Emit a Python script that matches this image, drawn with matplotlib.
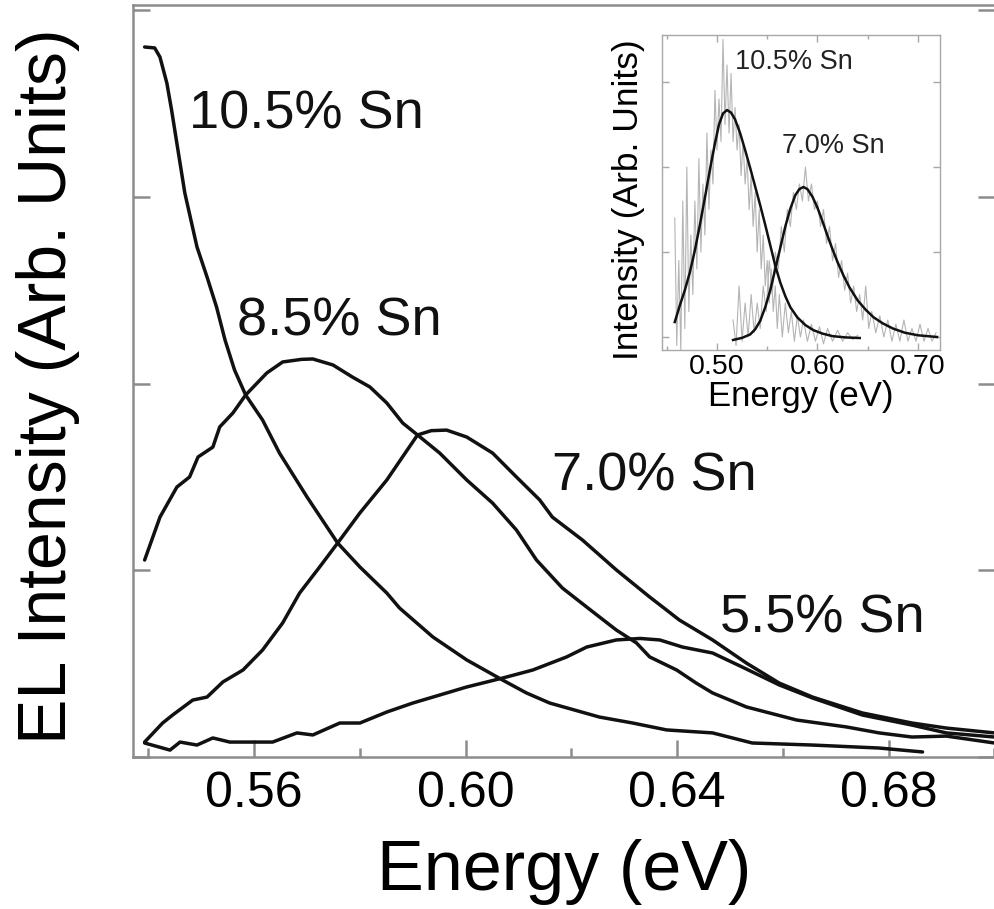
"""
EL spectra of GeSn samples with an inset of PL fits.
Output: out.png
"""

import matplotlib
matplotlib.use("Agg")
import matplotlib.pyplot as plt
from matplotlib.ticker import MultipleLocator

plt.rcParams["font.family"] = ["Liberation Sans", "DejaVu Sans"]

COL_LINE = "#111111"
COL_AXIS = "#8c8c8c"
COL_INSET_AXIS = "#a8a8a8"
COL_RAW = "#b4b4b4"

# ── main panel: EL spectra (energy in eV, intensity in arb. units) ──────
sn105_e = [0.5393, 0.5412, 0.5422, 0.5435, 0.5444, 0.5456, 0.5469, 0.5492,
           0.5511, 0.5529, 0.5545, 0.5563, 0.5584, 0.5616, 0.5648, 0.5700,
           0.5758, 0.5800, 0.5851, 0.5875, 0.5938, 0.6002, 0.6070, 0.6115,
           0.6159, 0.6253, 0.6316, 0.6380, 0.6467, 0.6542, 0.6656, 0.6782,
           0.6864]
sn105_i = [3.803, 3.798, 3.749, 3.610, 3.465, 3.251, 3.021, 2.732,
           2.571, 2.410, 2.234, 2.073, 1.939, 1.805, 1.628, 1.393,
           1.146, 1.018, 0.878, 0.798, 0.643, 0.520, 0.412, 0.343,
           0.289, 0.214, 0.182, 0.145, 0.129, 0.075, 0.064, 0.048,
           0.027]

sn85_e = [0.5393, 0.5422, 0.5454, 0.5478, 0.5494, 0.5522, 0.5535, 0.5560,
          0.5584, 0.5624, 0.5654, 0.5690, 0.5711, 0.5749, 0.5786, 0.5819,
          0.5851, 0.5881, 0.5909, 0.5951, 0.6002, 0.6051, 0.6096, 0.6134,
          0.6183, 0.6229, 0.6285, 0.6323, 0.6348, 0.6399, 0.6436, 0.6467,
          0.6531, 0.6626, 0.6720, 0.6782, 0.6844, 0.6909, 0.7000]
sn85_i = [1.055, 1.285, 1.446, 1.500, 1.607, 1.660, 1.768, 1.843,
          1.939, 2.057, 2.116, 2.130, 2.132, 2.100, 2.035, 1.982,
          1.896, 1.789, 1.725, 1.628, 1.484, 1.360, 1.216, 1.055,
          0.905, 0.803, 0.680, 0.611, 0.536, 0.466, 0.396, 0.343,
          0.268, 0.198, 0.161, 0.129, 0.107, 0.112, 0.075]

sn70_e = [0.5393, 0.5427, 0.5446, 0.5484, 0.5511, 0.5541, 0.5579, 0.5616,
          0.5654, 0.5686, 0.5724, 0.5758, 0.5800, 0.5851, 0.5909, 0.5935,
          0.5964, 0.6002, 0.6051, 0.6096, 0.6140, 0.6164, 0.6221, 0.6285,
          0.6348, 0.6380, 0.6404, 0.6467, 0.6531, 0.6593, 0.6656, 0.6750,
          0.6844, 0.6909, 0.7000]
sn70_i = [0.080, 0.182, 0.225, 0.305, 0.321, 0.402, 0.466, 0.573,
          0.718, 0.878, 1.018, 1.146, 1.307, 1.484, 1.725, 1.748,
          1.751, 1.714, 1.628, 1.500, 1.377, 1.285, 1.162, 1.002,
          0.857, 0.787, 0.734, 0.627, 0.503, 0.396, 0.321, 0.236,
          0.182, 0.155, 0.129]

sn55_e = [0.5393, 0.5441, 0.5460, 0.5492, 0.5522, 0.5554, 0.5597, 0.5635,
          0.5681, 0.5711, 0.5762, 0.5800, 0.5851, 0.5900, 0.5938, 0.6002,
          0.6070, 0.6127, 0.6191, 0.6229, 0.6285, 0.6330, 0.6367, 0.6410,
          0.6467, 0.6523, 0.6593, 0.6656, 0.6750, 0.6844, 0.6909, 0.7000]
sn55_i = [0.075, 0.037, 0.080, 0.064, 0.102, 0.080, 0.080, 0.080,
          0.129, 0.118, 0.182, 0.182, 0.241, 0.289, 0.321, 0.375,
          0.423, 0.466, 0.536, 0.589, 0.627, 0.635, 0.627, 0.589,
          0.557, 0.482, 0.386, 0.316, 0.225, 0.171, 0.129, 0.107]

main_labels = ["10.5% Sn", "8.5% Sn", "7.0% Sn", "5.5% Sn"]
main_xticks = [0.56, 0.60, 0.64, 0.68]
main_xminor = [0.54, 0.58, 0.62, 0.66, 0.70]

# ── inset: raw spectra (grey) and fits (black) ──────────────────────────
raw105_e = [0.458, 0.460, 0.462, 0.464, 0.466, 0.468, 0.470, 0.472, 0.474,
            0.476, 0.478, 0.480, 0.482, 0.484, 0.486, 0.488, 0.490, 0.492,
            0.494, 0.496, 0.498, 0.500, 0.502, 0.504, 0.506, 0.508, 0.510,
            0.512, 0.514, 0.516, 0.518, 0.520, 0.522, 0.524, 0.526, 0.528,
            0.530, 0.532, 0.534, 0.536, 0.538, 0.540, 0.542, 0.544, 0.546,
            0.548, 0.550, 0.552, 0.554, 0.556, 0.558, 0.560, 0.562, 0.565,
            0.568, 0.571, 0.574, 0.577, 0.580, 0.583, 0.586, 0.590, 0.594,
            0.598, 0.602, 0.606, 0.610, 0.615, 0.620, 0.625, 0.630, 0.635,
            0.640]
raw105_i = [1.4, -0.1, 0.9, -0.15, 1.6, 0.1, 2.0, 0.3, 1.2,
            0.5, 1.6, 0.8, 2.1, 1.0, 1.8, 1.2, 2.4, 1.5,
            2.2, 1.8, 2.9, 2.2, 2.8, 2.3, 3.5, 2.5, 3.2,
            2.4, 3.1, 2.3, 2.7, 2.2, 2.5, 1.9, 2.3, 1.8,
            2.1, 1.5, 1.9, 1.3, 1.7, 1.0, 1.5, 0.8, 1.2,
            0.6, 0.9, 0.4, 0.8, 0.3, 0.6, 0.1, 0.5, 0.0,
            0.4, 0.05, 0.3, -0.05, 0.25, 0.0, 0.2, -0.05, 0.15,
            -0.05, 0.12, -0.08, 0.1, -0.05, 0.08, -0.05, 0.05, -0.03,
            0.02]

raw70_e = [0.516, 0.519, 0.522, 0.525, 0.528, 0.531, 0.534, 0.537, 0.540,
           0.543, 0.546, 0.549, 0.552, 0.555, 0.558, 0.561, 0.564, 0.567,
           0.570, 0.573, 0.576, 0.579, 0.582, 0.585, 0.588, 0.591, 0.594,
           0.597, 0.600, 0.603, 0.606, 0.609, 0.612, 0.615, 0.618, 0.621,
           0.624, 0.627, 0.630, 0.633, 0.636, 0.639, 0.642, 0.645, 0.648,
           0.651, 0.654, 0.658, 0.662, 0.666, 0.670, 0.674, 0.678, 0.682,
           0.686, 0.690, 0.694, 0.698, 0.702, 0.706, 0.710, 0.714, 0.718]
raw70_i = [0.2, -0.1, 0.6, -0.05, 0.4, 0.0, 0.5, 0.05, 0.4,
           0.1, 0.6, 0.3, 0.9, 0.5, 1.0, 0.8, 1.3, 1.0,
           1.5, 1.3, 1.7, 1.5, 1.8, 1.6, 2.0, 1.6, 1.8,
           1.5, 1.6, 1.3, 1.5, 1.1, 1.3, 0.9, 1.1, 0.7,
           0.9, 0.55, 0.75, 0.4, 0.6, 0.3, 0.5, 0.2, 0.6,
           0.1, 0.3, 0.05, 0.25, 0.0, 0.2, -0.05, 0.15, -0.05,
           0.2, -0.05, 0.1, -0.05, 0.15, -0.05, 0.1, -0.05, 0.05]

fit105_e = [0.458, 0.463, 0.468, 0.473, 0.478, 0.483, 0.488, 0.493, 0.498,
            0.502, 0.506, 0.510, 0.514, 0.518, 0.523, 0.528, 0.533, 0.538,
            0.543, 0.548, 0.553, 0.558, 0.563, 0.568, 0.573, 0.580, 0.588,
            0.596, 0.605, 0.615, 0.628, 0.642]
fit105_i = [0.176, 0.37, 0.55, 0.76, 1.02, 1.32, 1.64, 1.97, 2.28,
            2.50, 2.63, 2.67, 2.64, 2.56, 2.40, 2.20, 1.99, 1.77,
            1.55, 1.32, 1.08, 0.84, 0.64, 0.48, 0.35, 0.23, 0.14,
            0.08, 0.04, 0.01, -0.005, -0.012]

fit70_e = [0.516, 0.525, 0.533, 0.538, 0.543, 0.548, 0.553, 0.558, 0.563,
           0.568, 0.573, 0.578, 0.582, 0.586, 0.590, 0.595, 0.600, 0.605,
           0.610, 0.615, 0.620, 0.626, 0.632, 0.640, 0.648, 0.656, 0.665,
           0.675, 0.687, 0.700, 0.719]
fit70_i = [-0.035, -0.01, 0.03, 0.09, 0.19, 0.35, 0.55, 0.80, 1.05,
           1.30, 1.51, 1.67, 1.74, 1.765, 1.74, 1.65, 1.52, 1.36,
           1.19, 1.03, 0.88, 0.72, 0.58, 0.43, 0.32, 0.23, 0.16,
           0.10, 0.05, 0.02, 0.0]

inset_labels = ["10.5% Sn", "7.0% Sn"]
inset_xticks = [0.50, 0.60, 0.70]
inset_xminor = [0.45, 0.55, 0.65]


def style_spines(ax, color, lw):
    for sp in ax.spines.values():
        sp.set_color(color)
        sp.set_linewidth(lw)


def main():
    fig = plt.figure(figsize=(9.95, 9.09), dpi=100)

    # main axes
    ax = fig.add_axes([133 / 995, 152 / 909, 862 / 995, 752 / 909])
    style_spines(ax, COL_AXIS, 1.8)
    for e, i in [(sn105_e, sn105_i), (sn85_e, sn85_i),
                 (sn70_e, sn70_i), (sn55_e, sn55_i)]:
        ax.plot(e, i, color=COL_LINE, lw=2.5, solid_joinstyle="round",
                solid_capstyle="round")

    ax.set_xlim(0.5371, 0.7001)
    ax.set_ylim(0, 4.028)
    ax.set_xticks(main_xticks)
    ax.set_xticklabels([f"{t:.2f}" for t in main_xticks])
    ax.set_xticks(main_xminor, minor=True)
    ax.yaxis.set_major_locator(MultipleLocator(1))
    ax.set_yticklabels([])
    ax.tick_params(axis="both", which="major", direction="in", length=12,
                   width=1.8, color=COL_AXIS, labelsize=36, pad=10,
                   right=True)
    ax.tick_params(axis="x", which="minor", direction="in", length=6.5,
                   width=1.8, color=COL_AXIS)
    ax.set_xlabel("Energy (eV)", fontsize=50.5, labelpad=16)
    ax.set_ylabel("EL Intensity (Arb. Units)", fontsize=49)
    ax.yaxis.set_label_coords(-0.061, 0.493)

    label_pos = [(0.065, 0.836), (0.121, 0.560), (0.486, 0.355), (0.681, 0.165)]
    for txt, (x, y) in zip(main_labels, label_pos):
        ax.text(x, y, txt, transform=ax.transAxes, fontsize=39,
                ha="left", va="baseline", color=COL_LINE)

    # inset
    ins = fig.add_axes([662 / 995, 559 / 909, 278 / 995, 315 / 909])
    style_spines(ins, COL_INSET_AXIS, 1.0)
    ins.plot(raw105_e, raw105_i, color=COL_RAW, lw=0.8)
    ins.plot(raw70_e, raw70_i, color=COL_RAW, lw=0.8)
    ins.plot(fit105_e, fit105_i, color=COL_LINE, lw=1.8)
    ins.plot(fit70_e, fit70_i, color=COL_LINE, lw=1.8)

    ins.set_xlim(0.4453, 0.7219)
    ins.set_ylim(-0.153, 3.553)
    ins.set_xticks(inset_xticks)
    ins.set_xticklabels([f"{t:.2f}" for t in inset_xticks])
    ins.set_xticks(inset_xminor, minor=True)
    ins.yaxis.set_major_locator(MultipleLocator(1))
    ins.set_yticklabels([])
    ins.tick_params(axis="both", which="major", direction="in", length=5,
                    width=1.0, color=COL_INSET_AXIS, labelsize=20.5, pad=3,
                    right=True, top=True)
    ins.tick_params(axis="x", which="minor", direction="in", length=3,
                    width=1.0, color=COL_INSET_AXIS, top=True)
    ins.set_xlabel("Energy (eV)", fontsize=25, labelpad=0)
    ins.set_ylabel("Intensity (Arb. Units)", fontsize=25.5)
    ins.yaxis.set_label_coords(-0.061, 0.476)

    ins_pos = [(0.263, 0.892), (0.432, 0.625)]
    for txt, (x, y) in zip(inset_labels, ins_pos):
        ins.text(x, y, txt, transform=ins.transAxes, fontsize=19.5,
                 ha="left", va="baseline", color="#222222")

    fig.savefig("out.png", dpi=100, facecolor="white")


if __name__ == "__main__":
    main()
